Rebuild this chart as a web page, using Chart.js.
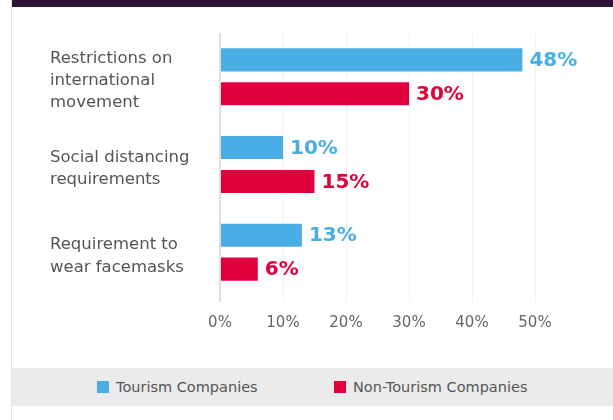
<!DOCTYPE html>
<html>
<head>
<meta charset="utf-8">
<script src="https://cdn.jsdelivr.net/npm/chart.js@4/dist/chart.umd.min.js"></script>
<style>
  html, body { margin: 0; padding: 0; background: #fff; }
  body { width: 613px; height: 420px; position: relative; overflow: hidden; font-family: "DejaVu Sans", sans-serif; }
  #topbar { position: absolute; left: 11px; top: 0; width: 602px; height: 7px; background: #2b1633; }
  #edge { position: absolute; left: 11px; top: 0; width: 1px; height: 420px; background: #e2e2e2; }
  #wrap { position: absolute; left: 0; top: 0; width: 613px; height: 368px; }
  #legend { position: absolute; left: 12px; top: 368px; width: 601px; height: 38px; background: #ebebeb;
            color: #555; font-size: 14.5px; }
  #legend .item { position: absolute; top: 0; height: 38px; display: flex; align-items: center; }
  #legend .box { width: 12px; height: 12px; margin-right: 7px; }
</style>
</head>
<body>
<div id="topbar"></div>
<div id="edge"></div>
<div id="wrap"><canvas id="myChart"></canvas></div>
<div id="legend"></div>
<script>
// data
const categories = [
  ['Restrictions on', 'international', 'movement'],
  ['Social distancing', 'requirements'],
  ['Requirement to', 'wear facemasks']
];
const seriesNames = ['Tourism Companies', 'Non-Tourism Companies'];
const tourism = [48, 10, 13];
const nonTourism = [30, 15, 6];
const xTicks = [0, 10, 20, 30, 40, 50];

const BLUE = '#4aaee4';
const RED = '#e2003c';
const FONT = '"DejaVu Sans", sans-serif';

// value labels at the end of each bar
const valueLabels = {
  id: 'valueLabels',
  afterDatasetsDraw(chart) {
    const ctx = chart.ctx;
    ctx.save();
    ctx.font = 'bold 20px ' + FONT;
    ctx.textBaseline = 'middle';
    ctx.textAlign = 'left';
    chart.data.datasets.forEach((ds, i) => {
      chart.getDatasetMeta(i).data.forEach((bar, j) => {
        ctx.fillStyle = ds.backgroundColor;
        ctx.fillText(ds.data[j] + '%', bar.x + 7, bar.y + 1);
      });
    });
    ctx.restore();
  }
};

const ctx = document.getElementById('myChart');
new Chart(ctx, {
  type: 'bar',
  data: {
    labels: categories,
    datasets: [
      { label: seriesNames[0], data: tourism, backgroundColor: BLUE },
      { label: seriesNames[1], data: nonTourism, backgroundColor: RED }
    ]
  },
  options: {
    indexAxis: 'y',
    responsive: true,
    maintainAspectRatio: false,
    animation: false,
    categoryPercentage: 0.773,
    barPercentage: 0.68,
    layout: { padding: { left: 50, right: 78, top: 33, bottom: 32 } },
    plugins: {
      legend: { display: false },
      tooltip: { enabled: false }
    },
    scales: {
      x: {
        min: 0,
        max: 50,
        afterBuildTicks: (scale) => { scale.ticks = xTicks.map(v => ({ value: v })); },
        afterFit: (scale) => { scale.height = 40; },
        border: { display: false },
        grid: {
          color: (c) => c.tick && c.tick.value === 0 ? '#dedede' : '#f1f1f1',
          tickLength: 6,
          lineWidth: (c) => c.tick && c.tick.value === 0 ? 2 : 1
        },
        ticks: {
          padding: 12,
          color: '#666',
          font: { family: FONT, size: 15 },
          callback: (v) => v + '%'
        }
      },
      y: {
        afterFit: (scale) => { scale.width = 170; },
        border: { display: false },
        grid: { display: false },
        ticks: {
          crossAlign: 'far',
          color: '#555',
          labelOffset: 4,
          font: { family: FONT, size: 16.5, lineHeight: 1.35 }
        }
      }
    }
  },
  plugins: [valueLabels]
});

// legend band built from the series names
const legend = document.getElementById('legend');
const legendX = [85, 322];
[BLUE, RED].forEach((col, i) => {
  const item = document.createElement('div');
  item.className = 'item';
  item.style.left = legendX[i] + 'px';
  item.innerHTML = '<span class="box" style="background:' + col + '"></span>' + seriesNames[i];
  legend.appendChild(item);
});
</script>
</body>
</html>
